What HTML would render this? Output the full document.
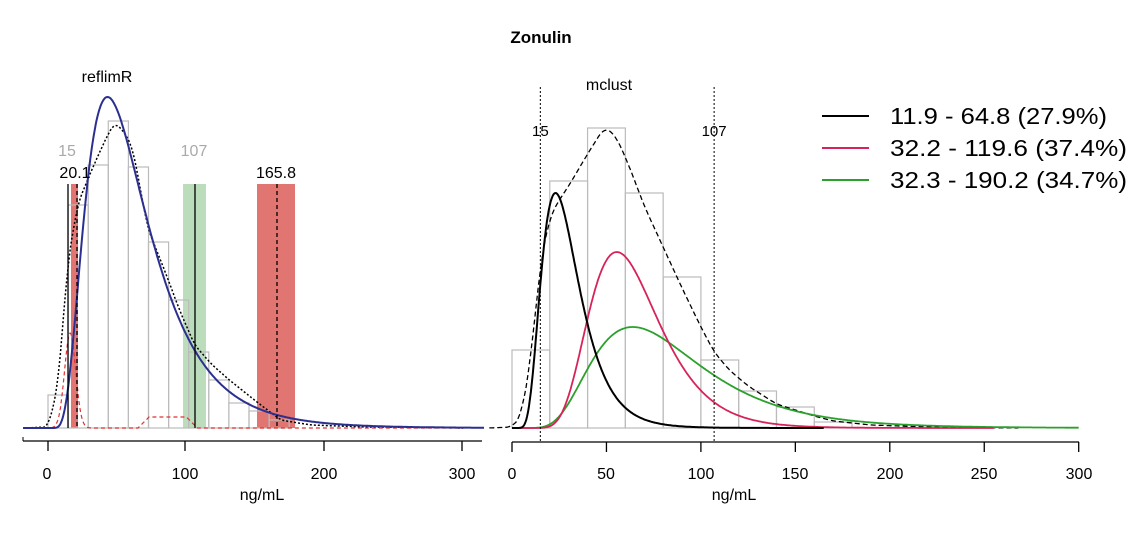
<!DOCTYPE html>
<html><head><meta charset="utf-8"><style>
html,body{margin:0;padding:0;background:#fff}
svg{display:block;font-family:"Liberation Sans",Arial,sans-serif}
</style></head><body>
<svg id="s" width="1140" height="547" viewBox="0 0 1140 547" xmlns="http://www.w3.org/2000/svg">
<rect width="1140" height="547" fill="#fff"/>
<text x="541" y="43" font-size="17" font-weight="bold" text-anchor="middle">Zonulin</text>
<text x="107" y="82" font-size="16" text-anchor="middle">reflimR</text>
<text x="609" y="90" font-size="16" text-anchor="middle">mclust</text>
<g id="L"></g><g id="R"></g>
<line x1="23" y1="441" x2="482" y2="441" stroke="#000" stroke-width="1.3"/>
<line x1="23" y1="437" x2="23" y2="441" stroke="#000"/>
<g stroke="#000" stroke-width="1.3">
<line x1="48" y1="441" x2="48" y2="451"/><line x1="185" y1="441" x2="185" y2="451"/><line x1="324" y1="441" x2="324" y2="451"/><line x1="462" y1="441" x2="462" y2="451"/>
</g>
<g font-size="16" text-anchor="middle">
<text x="47" y="479">0</text><text x="185" y="479">100</text><text x="324" y="479">200</text><text x="462" y="479">300</text>
<text x="262" y="500">ng/mL</text>
</g>
<line x1="512" y1="442" x2="1079" y2="442" stroke="#000" stroke-width="1.3"/>
<g id="RT" stroke="#000" stroke-width="1.3"></g>
<g font-size="16" text-anchor="middle">
<text x="512" y="479">0</text><text x="606" y="479">50</text><text x="701" y="479">100</text><text x="795" y="479">150</text><text x="890" y="479">200</text><text x="984" y="479">250</text><text x="1079" y="479">300</text>
<text x="734" y="500">ng/mL</text>
</g>
<line x1="822" y1="116" x2="869" y2="116" stroke="#000" stroke-width="2"/>
<line x1="822" y1="148" x2="869" y2="148" stroke="#d6245a" stroke-width="2"/>
<line x1="822" y1="180" x2="869" y2="180" stroke="#2ca02c" stroke-width="2"/>
<g font-size="23">
<text x="890" y="124" textLength="217" lengthAdjust="spacingAndGlyphs">11.9 - 64.8 (27.9%)</text>
<text x="890" y="156" textLength="237" lengthAdjust="spacingAndGlyphs">32.2 - 119.6 (37.4%)</text>
<text x="890" y="188" textLength="237" lengthAdjust="spacingAndGlyphs">32.3 - 190.2 (34.7%)</text>
</g>
</svg>
<script>
const NS="http://www.w3.org/2000/svg";
function el(p,t,a){const e=document.createElementNS(NS,t);for(const k in a)e.setAttribute(k,a[k]);p.appendChild(e);return e;}
function ln(x,mu,s){if(x<=0)return 0;const z=(Math.log(x)-mu)/s;return Math.exp(-z*z/2)/(x*s);}
function mk(mu,s){const mode=Math.exp(mu-s*s);const pk=ln(mode,mu,s);return x=>ln(x,mu,s)/pk;}
function lin(pts){return v=>{if(v<=pts[0][0])return pts[0][1];for(let i=1;i<pts.length;i++){if(v<=pts[i][0]){const [a,ya]=pts[i-1],[b,yb]=pts[i];return ya+(yb-ya)*(v-a)/(b-a);}}return pts[pts.length-1][1];};}
function smooth(f,w){return v=>{let s=0,n=0;for(let d=-w;d<=w;d+=0.5){s+=f(v+d);n++;}return s/n;};}
const B=mk(Math.log(27.77),0.432), Rd=mk(Math.log(62.06),0.335), G=mk(Math.log(78.4),0.452);
const R=document.getElementById('R'), L=document.getElementById('L');
const RT=document.getElementById('RT');
for(let v=0;v<=300;v+=50){const x=512+v*1.889;el(RT,'line',{x1:x,y1:442,x2:x,y2:452});}
const rx=v=>512+v*1.889, base=428;
const rh=[350,181,128,193,277,360,391,407,422];
rh.forEach((t,i)=>el(R,'rect',{x:rx(i*20),y:t,width:37.8,height:base-t,fill:'none',stroke:'#bbb','stroke-width':1.2}));
function path(f,x0,x1,X,g,attrs){let d='';for(let v=x0;v<=x1;v+=0.5){const y=base-f(v);d+=(d?'L':'M')+X(v).toFixed(1)+','+y.toFixed(1);}attrs.d=d;attrs.fill='none';el(g,'path',attrs);}
const dR=smooth(lin([[-12,0],[0,1],[5,12],[10,70],[15,165],[20,211],[25,228],[30,242],[40,274],[49,301],[55,292],[62,262],[70,222],[80,181],[90,140],[100,101],[107,76],[115,58],[125,42],[140,24],[150,18],[160,12],[170,7],[190,3],[220,1],[268,0]]),3);
path(dR,-12,268,rx,R,{stroke:'#000','stroke-width':1.3,'stroke-dasharray':'5,3'});
path(v=>101*G(v),0,300,rx,R,{stroke:'#2ca02c','stroke-width':1.8});
path(v=>176*Rd(v),0,255,rx,R,{stroke:'#d6245a','stroke-width':1.8});
path(v=>235*B(v),0,165,rx,R,{stroke:'#000','stroke-width':2});
[15,107].forEach(v=>el(R,'line',{x1:rx(v),y1:87,x2:rx(v),y2:442,stroke:'#000','stroke-width':1,'stroke-dasharray':'2,2'}));
el(R,'text',{x:rx(15),y:136,'font-size':15,'text-anchor':'middle'}).textContent='15';
el(R,'text',{x:rx(107),y:136,'font-size':15,'text-anchor':'middle'}).textContent='107';
const lx=v=>48+v*1.384;
el(L,'rect',{x:71,y:184,width:7,height:244,fill:'#d9534f','fill-opacity':0.8});
el(L,'rect',{x:183,y:184,width:23,height:244,fill:'#9fcf9f','fill-opacity':0.7});
el(L,'rect',{x:257,y:184,width:38,height:244,fill:'#d9534f','fill-opacity':0.8});
const lh=[395,205,165,121,167,242,300,352,380,403,411,420];
lh.forEach((t,i)=>el(L,'rect',{x:48+i*20.1,y:t,width:20.1,height:base-t,fill:'none',stroke:'#bbb','stroke-width':1.2}));
const s2=0.53, Bl=mk(Math.log(43)+s2*s2,s2);
const dL=smooth(lin([[-18,0],[0,1],[7,40],[14.5,168],[21.7,225],[32.5,261],[42,290],[48,305],[54,298],[61,281],[72,200],[85,155],[95,118],[106,83],[118,64],[131,48],[151,26],[168,8],[190,3],[230,1],[300,0]]),3);
path(dL,-18,300,lx,L,{stroke:'#000','stroke-width':1.5,'stroke-dasharray':'2,2'});
path(v=>95*Math.exp(-Math.pow((v-16)/4,2)/2)+(v>65&&v<108?11*Math.min(1,(v-65)/8,(108-v)/8):0),-18,300,lx,L,{stroke:'#e03030','stroke-width':1.2,'stroke-dasharray':'4,3'});
path(v=>331*Bl(v),-18,315,lx,L,{stroke:'#2b2f8f','stroke-width':2});
el(L,'line',{x1:68,y1:184,x2:68,y2:428,stroke:'#000','stroke-width':1.3});
el(L,'line',{x1:195,y1:184,x2:195,y2:428,stroke:'#000','stroke-width':1.3});
el(L,'line',{x1:77,y1:184,x2:77,y2:428,stroke:'#000','stroke-width':1.3,'stroke-dasharray':'4,3'});
el(L,'line',{x1:277,y1:184,x2:277,y2:428,stroke:'#000','stroke-width':1.3,'stroke-dasharray':'4,3'});
el(L,'text',{x:67,y:156,'font-size':16,'text-anchor':'middle',fill:'#aaa'}).textContent='15';
el(L,'text',{x:194,y:156,'font-size':16,'text-anchor':'middle',fill:'#aaa'}).textContent='107';
el(L,'text',{x:75,y:178,'font-size':16,'text-anchor':'middle'}).textContent='20.1';
el(L,'text',{x:276,y:178,'font-size':16,'text-anchor':'middle'}).textContent='165.8';
</script>
</body></html>
